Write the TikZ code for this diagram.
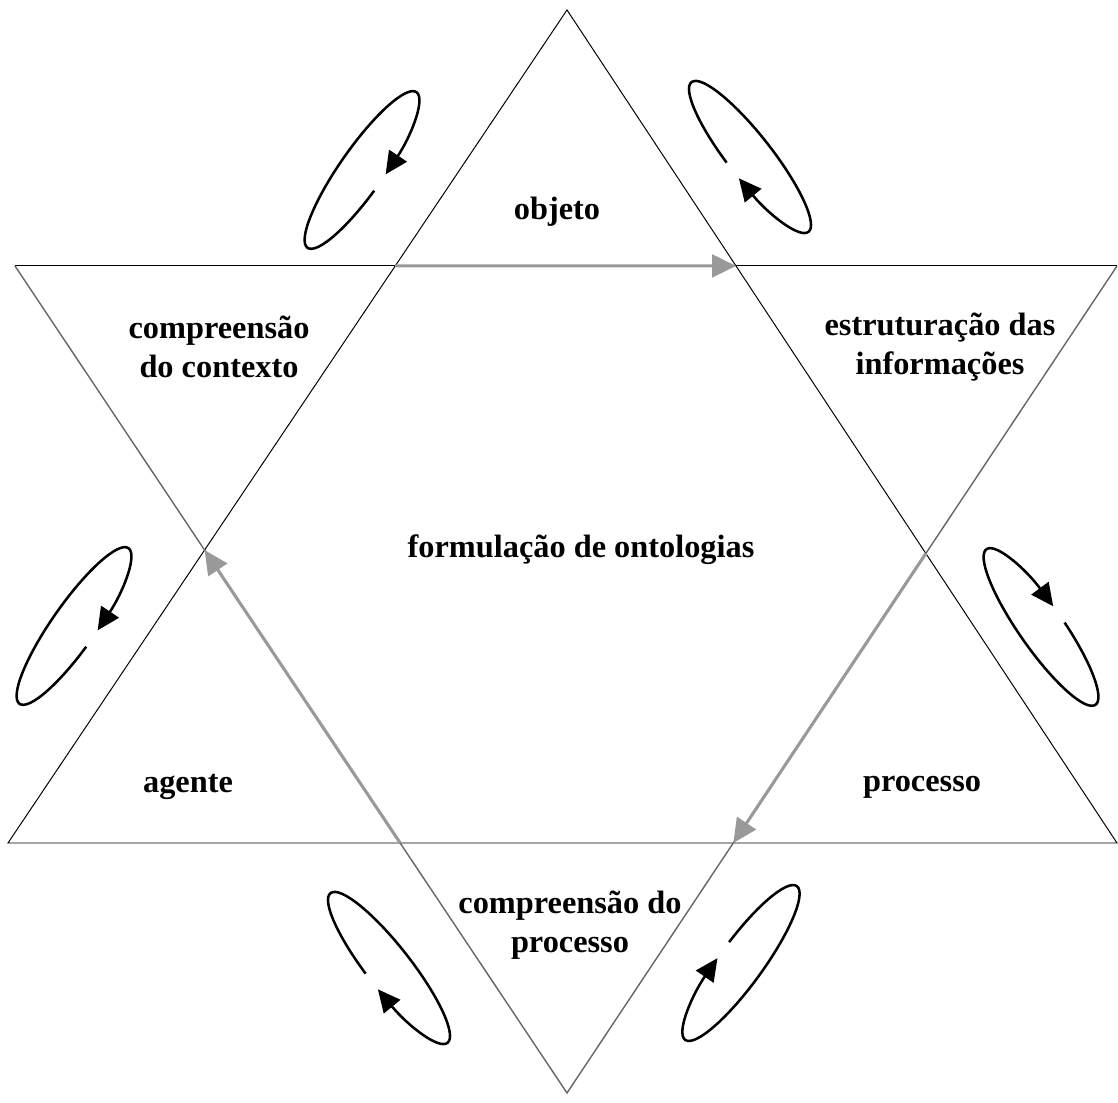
\documentclass[tikz,border=0pt]{standalone}
\usepackage{fontspec}
\setmainfont{Liberation Serif}
\usetikzlibrary{arrows.meta}

\begin{document}
\begin{tikzpicture}[x=0.025cm, y=0.025cm,
  lbl/.style={font=\fontsize{23}{28}\selectfont\bfseries, align=center},
  tri/.style={draw=black, line width=0.7pt},
  trigray/.style={draw=black!60, line width=1pt},
  flowarrow/.style={draw=black!40, line width=2.2pt, -{Triangle[length=17pt,width=16pt,fill=black!40]}},
  turn/.style={line width=1.8pt, -{Triangle[length=16pt,width=15pt]}}]
  \useasboundingbox (0,0) rectangle (1118,1103);
  % triangle pointing up
  \coordinate (uTop) at (567,1093);
  \coordinate (uLeft) at (8,260);
  \coordinate (uRight) at (1117,260);
  % triangle pointing down
  \coordinate (dLeft) at (15,837);
  \coordinate (dRight) at (1117,837);
  \coordinate (dBot) at (567,10);
  \draw[tri] (uLeft) -- (uTop) -- (uRight) -- cycle;
  \draw[tri] (dLeft) -- (dRight);
  \draw[trigray] (dLeft) -- (dBot) -- (dRight);
  % crossings of the two triangles
  \coordinate (xTopL) at (intersection of uLeft--uTop and dLeft--dRight);
  \coordinate (xTopR) at (intersection of uRight--uTop and dLeft--dRight);
  \coordinate (xRight) at (intersection of uRight--uTop and dRight--dBot);
  \coordinate (xBotR) at (intersection of uLeft--uRight and dRight--dBot);
  \coordinate (xBotL) at (intersection of uLeft--uRight and dLeft--dBot);
  \coordinate (xLeft) at (intersection of uLeft--uTop and dLeft--dBot);
  \draw[flowarrow] (xTopL) -- (xTopR);
  \draw[flowarrow] (xRight) -- (xBotR);
  \draw[flowarrow] (xBotL) -- (xLeft);
  % labels
  \node[lbl] (objeto) at (557,891) {objeto};
  \node[lbl] (contexto) at (219,756) {compreens\~ao\\do contexto};
  \node[lbl] (estrutura) at (940,756) {estrutura\c{c}\~ao das\\informa\c{c}\~oes};
  \node[lbl] (ontologias) at (581,553) {formula\c{c}\~ao de ontologias};
  \node[lbl] (agente) at (188,316) {agente};
  \node[lbl] (processo) at (922,316) {processo};
  \node[lbl] (comprocesso) at (570,178) {compreens\~ao do\\processo};
  % turning loops
  \foreach \cx/\cy/\rot in {362/933/55, 750/946/-52, 74/477/55, 1041/476/125, 389/135/-52, 741/140/234}
    \draw[turn, shift={(\cx,\cy)}, rotate=\rot] (-96:95 and 22) arc[start angle=-96, end angle=-444, x radius=95, y radius=22];
\end{tikzpicture}
\end{document}
